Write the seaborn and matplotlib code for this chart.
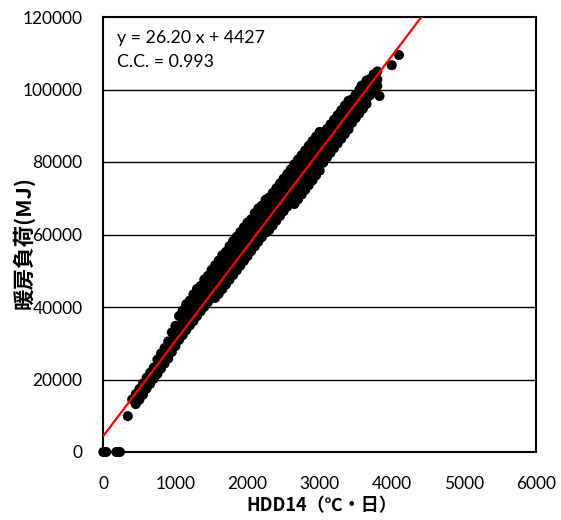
import matplotlib
matplotlib.use("Agg")
import matplotlib.pyplot as plt
import seaborn as sns
import numpy as np
import pandas as pd

# ---- data ----
hdd = [0, 40, 180, 230, 340,
       400,
       450, 450, 450,
       500, 500, 500,
       550, 550, 550,
       600, 600, 600,
       650, 650, 650,
       700, 700, 700,
       750, 750, 750,
       800, 800, 800,
       850, 850, 850,
       900, 900, 900,
       950, 950, 950,
       1000, 1000, 1000,
       1050, 1050, 1050, 1050,
       1100, 1100, 1100, 1100,
       1150, 1150, 1150, 1150,
       1200, 1200, 1200, 1200,
       1250, 1250, 1250, 1250,
       1300, 1300, 1300, 1300,
       1350, 1350, 1350, 1350,
       1400, 1400, 1400, 1400,
       1450, 1450, 1450, 1450,
       1500, 1500, 1500, 1500,
       1550, 1550, 1550, 1550,
       1600, 1600, 1600, 1600,
       1650, 1650, 1650, 1650,
       1700, 1700, 1700, 1700,
       1750, 1750, 1750, 1750,
       1800, 1800, 1800, 1800,
       1850, 1850, 1850, 1850,
       1900, 1900, 1900, 1900,
       1950, 1950, 1950, 1950,
       2000, 2000, 2000, 2000,
       2050, 2050, 2050, 2050,
       2100, 2100, 2100, 2100,
       2150, 2150, 2150, 2150,
       2200, 2200, 2200, 2200,
       2250, 2250, 2250, 2250,
       2300, 2300, 2300, 2300,
       2350, 2350, 2350, 2350,
       2400, 2400, 2400, 2400,
       2450, 2450, 2450, 2450,
       2500, 2500, 2500, 2500,
       2550, 2550, 2550, 2550,
       2600, 2600, 2600, 2600,
       2650, 2650, 2650, 2650, 2650,
       2700, 2700, 2700, 2700, 2700,
       2750, 2750, 2750, 2750, 2750,
       2800, 2800, 2800, 2800, 2800,
       2850, 2850, 2850, 2850, 2850,
       2900, 2900, 2900, 2900, 2900,
       2950, 2950, 2950, 2950, 2950,
       3000, 3000, 3000, 3000, 3000,
       3050, 3050, 3050, 3050,
       3100, 3100, 3100, 3100,
       3150, 3150, 3150, 3150,
       3200, 3200, 3200, 3200,
       3250, 3250, 3250, 3250,
       3300, 3300, 3300, 3300,
       3350, 3350, 3350, 3350,
       3400, 3400, 3400, 3400,
       3450, 3450, 3450, 3450,
       3500, 3500, 3500, 3500,
       3580,
       3550, 3550, 3550, 3550,
       3600, 3600, 3600, 3600,
       3650, 3650, 3650, 3650,
       3700, 3700, 3700,
       3750, 3750, 3750,
       3800, 3800, 3800,
       3830, 4000, 4100]
load = [0, 0, 0, 0, 9900,
        14500,
        16000, 14500, 13200,
        17400, 15900, 14400,
        18900, 17300, 15800,
        20500, 19000, 17500,
        21900, 20300, 18800,
        23300, 21700, 20200,
        25500, 23300, 21500,
        27200, 25000, 23000,
        28700, 26400, 24400,
        30500, 27800, 25800,
        33000, 30300, 27600,
        34800, 32000, 29200,
        37500, 34600, 31500, 30900,
        39000, 36000, 33200, 32200,
        40800, 37700, 34800, 33600,
        41800, 38800, 35800, 34900,
        43500, 40400, 37400, 36100,
        45000, 41800, 38700, 37500,
        45800, 42800, 39800, 38800,
        47600, 44400, 41300, 40000,
        48600, 45500, 42500, 41300,
        50200, 47000, 43800, 42500,
        51500, 48500, 45400, 42500,
        52800, 49700, 46600, 43600,
        54300, 51000, 47800, 44900,
        55200, 52000, 49000, 46200,
        56800, 53600, 50400, 47500,
        58200, 54900, 51700, 48800,
        59400, 56100, 52900, 50100,
        60700, 57400, 54200, 51400,
        62000, 58800, 55600, 52700,
        63300, 60100, 56900, 54000,
        64200, 61200, 58200, 55400,
        65900, 62700, 59500, 56700,
        67200, 64000, 60800, 58000,
        68000, 65000, 62000, 59300,
        69600, 66500, 63400, 60500,
        70200, 67200, 64200, 61200,
        71500, 68500, 65500, 62500,
        72800, 69800, 66800, 63800,
        74100, 71100, 68100, 65100,
        75400, 72400, 69400, 66400,
        76700, 73700, 70700, 67700,
        78000, 75000, 72000, 69000,
        79400, 76600, 73800, 71000, 68400,
        80700, 77900, 75100, 72300, 69700,
        81900, 79100, 76300, 73500, 71000,
        83200, 80400, 77600, 74800, 72300,
        84500, 81700, 78900, 76100, 73600,
        85800, 83000, 80200, 77400, 74900,
        87000, 84200, 81400, 78600, 76300,
        88300, 85500, 82700, 79900, 77600,
        87800, 85000, 82100, 79800,
        89100, 86300, 83400, 81200,
        90400, 87600, 84700, 82500,
        91700, 88900, 86000, 83800,
        93000, 90200, 87300, 85100,
        94300, 91500, 88600, 86400,
        95600, 92800, 89900, 87700,
        96900, 94100, 91200, 89000,
        97300, 94500, 92200, 90800,
        98600, 95800, 93500, 92100,
        101000,
        99900, 97100, 94800, 93400,
        101200, 98400, 96100, 94700,
        102500, 99700, 97400, 96000,
        102900, 100500, 98400,
        104200, 101800, 99700,
        105000, 102800, 101000,
        98200, 106700, 109500]

slope = 26.20
intercept = 4427
cc = 0.993

x_ticks = [0, 1000, 2000, 3000, 4000, 5000, 6000]
y_ticks = [0, 20000, 40000, 60000, 80000, 100000, 120000]

df = pd.DataFrame({"hdd": hdd, "load": load})
line_x = np.array([0, 6000])
line_df = pd.DataFrame({"hdd": line_x, "fit": slope * line_x + intercept})

sns.set_style("white")
plt.rcParams["font.family"] = ["Lato", "Noto Sans CJK JP", "DejaVu Sans"]
plt.rcParams["text.color"] = "black"
plt.rcParams["axes.labelcolor"] = "black"

W, H = 561, 520
fig = plt.figure(figsize=(W / 100, H / 100), dpi=100)
L, R, B, T = 103.3, 536.0, 452.0, 17.0
ax = fig.add_axes([L / W, (H - B) / H, (R - L) / W, (B - T) / H])

ax.set_xlim(0, 6000)
ax.set_ylim(0, 120000)
ax.set_xticks(x_ticks)
ax.set_yticks(y_ticks)
ax.set_xticklabels([str(v) for v in x_ticks])
ax.set_yticklabels([str(v) for v in y_ticks])

for y in y_ticks[1:-1]:
    ax.axhline(y, color="black", lw=1.0, zorder=0)

sns.scatterplot(data=df, x="hdd", y="load", ax=ax, color="black", s=52,
                edgecolor="none", linewidth=0, zorder=3, clip_on=False)
sns.lineplot(data=line_df, x="hdd", y="fit", ax=ax, color="#ff0000", lw=1.6, zorder=4)

for s in ax.spines.values():
    s.set_visible(True)
    s.set_color("black")
    s.set_linewidth(1.5)

ax.tick_params(axis="both", direction="in", length=5, width=1, colors="black",
               labelsize=12.5)
ax.tick_params(axis="x", pad=17)
ax.tick_params(axis="y", pad=15)
for lab in ax.get_xticklabels() + ax.get_yticklabels():
    lab.set_fontfamily(["Lato"])
    lab.set_color("black")

ax.set_xlabel("HDD14（℃・日）", fontsize=13, fontweight="bold",
              family=["Noto Sans CJK JP", "DejaVu Sans"])
ax.set_ylabel("暖房負荷(MJ)", fontsize=15.5, fontweight="bold",
              family=["Noto Sans CJK JP", "DejaVu Sans"])
ax.xaxis.set_label_coords((321.5 - L) / (R - L), (B - 506) / (B - T))
ax.xaxis.label.set_va("center")
ax.yaxis.set_label_coords((23 - L) / (R - L), (B - 242.5) / (B - T))
ax.yaxis.label.set_va("center")

ax.text(0.032, 0.952, f"y = {slope:.2f} x + {intercept}", transform=ax.transAxes,
        fontsize=12.8, family=["Lato"], va="center", ha="left")
ax.text(0.032, 0.896, f"C.C. = {cc:.3f}", transform=ax.transAxes,
        fontsize=12.8, family=["Lato"], va="center", ha="left")

fig.savefig("out.png", dpi=100)
